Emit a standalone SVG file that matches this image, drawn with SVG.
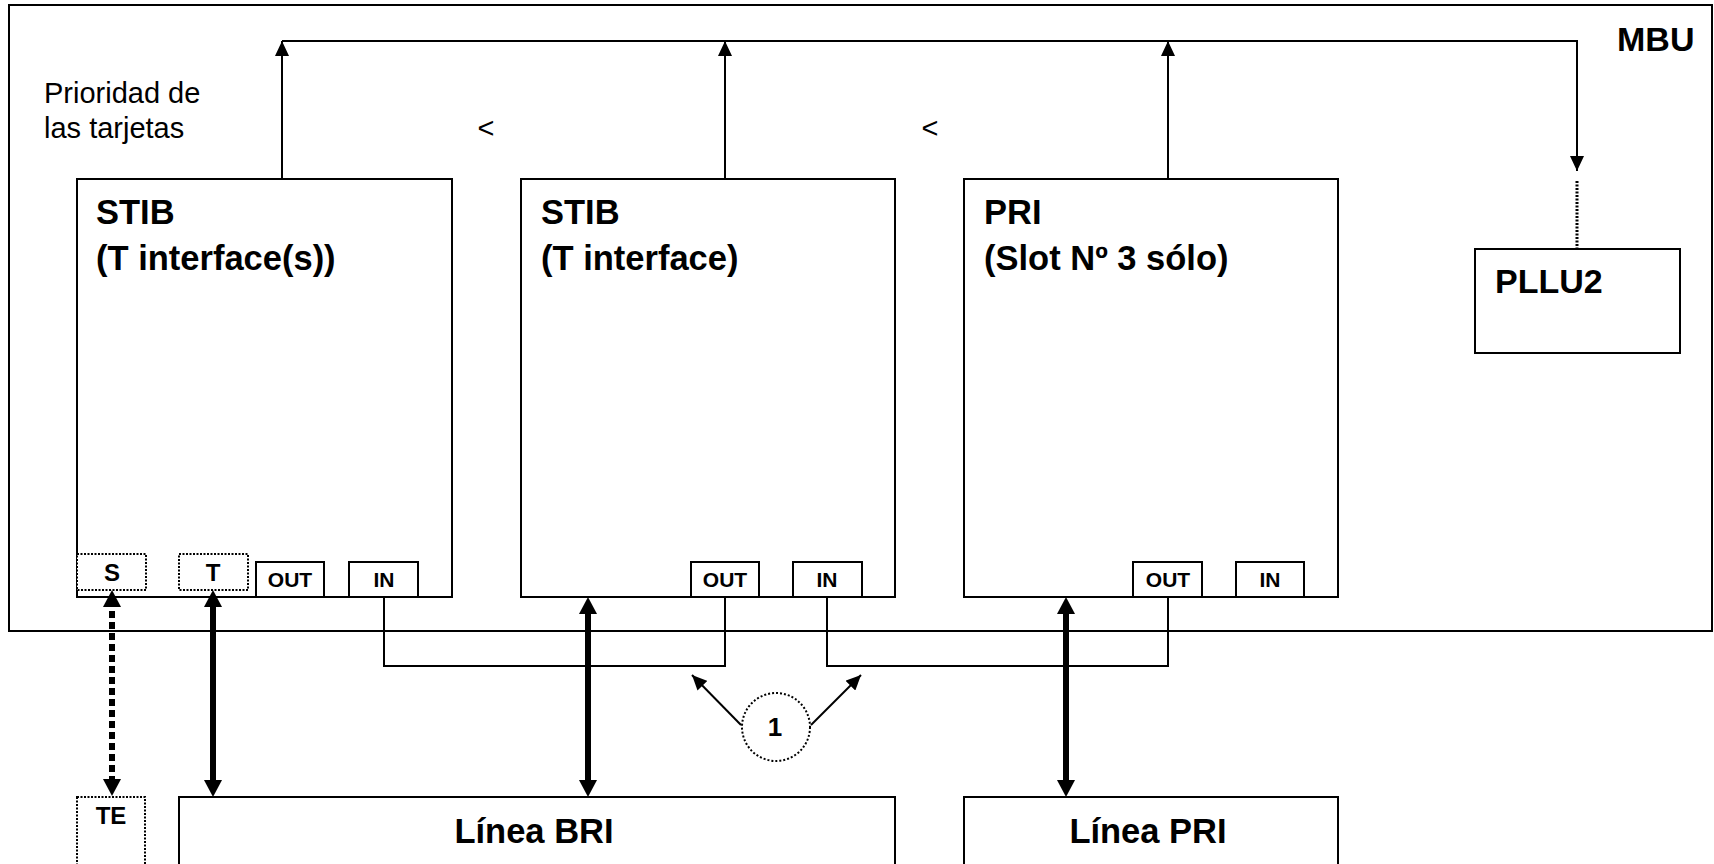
<svg xmlns="http://www.w3.org/2000/svg" width="1714" height="864" viewBox="0 0 1714 864">
<style>
.box{fill:#fff;stroke:#000;stroke-width:2}
.dbox{fill:#fff;stroke:#000;stroke-width:2;stroke-dasharray:2 1.5}
.ln{fill:none;stroke:#000;stroke-width:2}
.thick{fill:none;stroke:#000;stroke-width:6}
.b{font-family:"Liberation Sans",Arial,sans-serif;font-weight:bold;font-size:34.5px;fill:#000}
.r{font-family:"Liberation Sans",Arial,sans-serif;font-size:29px;fill:#000}
.p{font-family:"Liberation Sans",Arial,sans-serif;font-weight:bold;font-size:21px;fill:#000;text-anchor:middle}
.p24{font-size:24px}
.p26{font-size:26px}
.b34{font-size:34px}
</style>
<defs>
<marker id="a" markerUnits="userSpaceOnUse" markerWidth="16" markerHeight="14" refX="15" refY="7" orient="auto-start-reverse"><path d="M0,0 L15,7 L0,14 z" fill="#000"/></marker>
<marker id="at" markerUnits="userSpaceOnUse" markerWidth="18" markerHeight="18" refX="7" refY="9" orient="auto-start-reverse"><path d="M0,0 L17,9 L0,18 z" fill="#000"/></marker>
</defs>
<rect width="1714" height="864" fill="#fff"/>
<g id="mbu">
<rect x="9" y="5" width="1703" height="626" class="box" fill="none"/>
<text x="1617" y="51" class="b b34">MBU</text>
</g>
<g id="prioridad">
<text x="44" y="103" class="r">Prioridad de</text>
<text x="44" y="138" class="r">las tarjetas</text>
<text x="486" y="138" class="r" text-anchor="middle">&lt;</text>
<text x="930" y="138" class="r" text-anchor="middle">&lt;</text>
</g>
<g id="stib1">
<rect x="77" y="179" width="375" height="418" class="box"/>
<text x="96" y="224" class="b">STIB</text>
<text x="96" y="270" class="b">(T interface(s))</text>
<rect x="77" y="554" width="69" height="36" class="dbox"/>
<text x="112" y="581" class="p p24">S</text>
<rect x="179" y="554" width="69" height="36" class="dbox"/>
<text x="213" y="581" class="p p24">T</text>
<rect x="256" y="562" width="68" height="35" class="box"/>
<text x="290" y="587" class="p">OUT</text>
<rect x="349" y="562" width="69" height="35" class="box"/>
<text x="384" y="587" class="p">IN</text>
</g>
<g id="stib2">
<rect x="521" y="179" width="374" height="418" class="box"/>
<text x="541" y="224" class="b">STIB</text>
<text x="541" y="270" class="b">(T interface)</text>
<rect x="691" y="562" width="68" height="35" class="box"/>
<text x="725" y="587" class="p">OUT</text>
<rect x="793" y="562" width="69" height="35" class="box"/>
<text x="827" y="587" class="p">IN</text>
</g>
<g id="pri">
<rect x="964" y="179" width="374" height="418" class="box"/>
<text x="984" y="224" class="b">PRI</text>
<text x="984" y="270" class="b">(Slot Nº 3 sólo)</text>
<rect x="1133" y="562" width="69" height="35" class="box"/>
<text x="1168" y="587" class="p">OUT</text>
<rect x="1236" y="562" width="68" height="35" class="box"/>
<text x="1270" y="587" class="p">IN</text>
</g>
<g id="pllu2">
<rect x="1475" y="249" width="205" height="104" class="box"/>
<text x="1495" y="293" class="b b34">PLLU2</text>
</g>
<g id="te">
<rect x="77" y="797" width="68" height="80" class="dbox"/>
<text x="111" y="824" class="p p24">TE</text>
</g>
<g id="linea-bri">
<rect x="179" y="797" width="716" height="80" class="box"/>
<text x="534" y="843" class="b" text-anchor="middle">Línea BRI</text>
</g>
<g id="linea-pri">
<rect x="964" y="797" width="374" height="80" class="box"/>
<text x="1148" y="843" class="b" text-anchor="middle">Línea PRI</text>
</g>
<g id="note1">
<circle cx="776" cy="727" r="34" fill="#fff" stroke="#000" stroke-width="2" stroke-dasharray="2 2"/>
<text x="775" y="736" class="p p26">1</text>
</g>
<g id="connectors">
<path d="M282,41 H1577 V171" class="ln" marker-end="url(#a)"/>
<path d="M282,179 V41" class="ln" marker-end="url(#a)"/>
<path d="M725,179 V41" class="ln" marker-end="url(#a)"/>
<path d="M1168,179 V41" class="ln" marker-end="url(#a)"/>
<path d="M1577,181 V249" fill="none" stroke="#000" stroke-width="3" stroke-dasharray="2 1.5"/>
<path d="M384,597 V666 H725 V597" class="ln"/>
<path d="M827,597 V666 H1168 V597" class="ln"/>
<path d="M741,725 L692,675" class="ln" marker-end="url(#a)"/>
<path d="M811,725 L861,675" class="ln" marker-end="url(#a)"/>
<path d="M112,600 V786" class="thick" stroke-dasharray="7 4" marker-start="url(#at)" marker-end="url(#at)"/>
<path d="M213,600 V787" class="thick" marker-start="url(#at)" marker-end="url(#at)"/>
<path d="M588,607 V787" class="thick" marker-start="url(#at)" marker-end="url(#at)"/>
<path d="M1066,607 V787" class="thick" marker-start="url(#at)" marker-end="url(#at)"/>
</g>
</svg>
